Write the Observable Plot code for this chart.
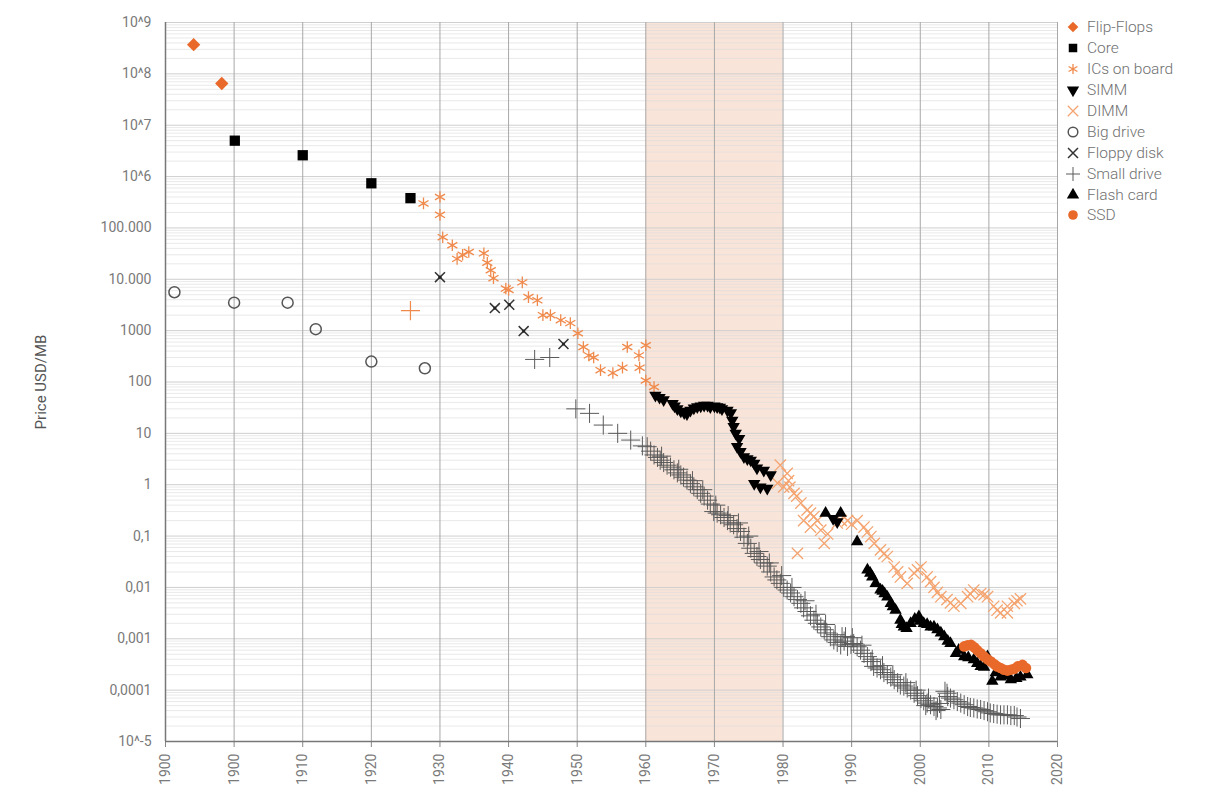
<!DOCTYPE html>
<html><head><meta charset="utf-8">
<script src="https://cdn.jsdelivr.net/npm/d3@7"></script>
<script src="https://cdn.jsdelivr.net/npm/@observablehq/plot@0.6"></script>
<style>
body{margin:0;background:#fff;font-family:Roboto,"Open Sans",sans-serif;}
#wrap{position:relative;width:1227px;height:801px;overflow:hidden;}
#legend{position:absolute;left:1066px;top:17px;font-size:15.5px;color:#707070;font-family:Roboto,sans-serif;font-weight:300;}
.row{display:flex;align-items:center;height:20.9px;white-space:nowrap;}
.row svg{margin-right:7px;flex:none;}
</style></head><body><div id="wrap"><div id="chart"></div><div id="legend"></div></div>
<script>
// ---- Data (year, price USD/MB) ----
const flipFlops = [[1894.1,3.7e8],[1898.2,6.5e7]];
const core = [[1900.1,5.0e6],[1910,2.6e6],[1920,7.4e5],[1925.7,3.8e5]];
const bigDrive = [[1891.3,5600],[1900,3500],[1907.8,3500],[1911.9,1070],[1920,250],[1927.8,185]];
const floppyDisk = [[1930,11000],[1938,2750],[1940.1,3200],[1942.2,980],[1948,550]];
const orangePlus = [[1925.7,2450]];
const icsOnBoard = [[1927.6,3.0e5],[1930,4.0e5],[1930,1.8e5],[1930.4,6.6e4],[1931.8,4.6e4],[1932.5,2.5e4],[1933.3,3.0e4],
  [1934.2,3.4e4],[1936.4,3.2e4],[1936.9,2.1e4],[1937.4,1.5e4],[1937.8,1.05e4],[1939.6,6600],[1940,6200],[1942,8700],
  [1942.9,4500],[1944.2,3900],[1945,2000],[1946.1,2000],[1947.6,1600],[1949,1400],[1950.1,890],[1950.9,480],[1951.7,330],
  [1952.4,300],[1953.4,170],[1955.2,150],[1956.6,190],[1957.3,480],[1959,330],[1960,520],[1959.1,190],[1960,107],[1961.2,80]];
const simm = [[1961.4,55],[1962.0,50],[1962.6,45],[1963.9,38],[1964.2,34],[1964.6,30],[1965.1,27],[1965.6,25],[1966.0,24],
  [1966.5,28],[1967.0,31],[1967.5,33],[1968.0,34],[1968.5,35],[1969.0,35],[1969.4,33],[1970.0,34],[1970.4,33],[1970.8,32],
  [1971.1,30],[1971.9,28],[1972.4,25],[1972.6,18],[1972.8,13.5],[1973.1,10],[1973.6,7.9],[1973.3,5.5],[1973.8,4.4],
  [1974.3,3.5],[1974.8,3.2],[1975.3,3.0],[1975.8,2.6],[1976.2,2.1],[1977.2,1.9],[1978.2,1.55],[1975.8,1.05],[1976.7,0.9],
  [1977.7,0.85],[1987.3,0.22],[1987.9,0.19]];
const dimm = [[1979.6,2.4],[1980.6,1.66],[1979.2,1.07],[1980.8,1.2],[1980.1,0.91],[1981.0,0.9],[1981.6,0.68],[1982.0,0.6],
  [1982.6,0.44],[1983.5,0.32],[1984.0,0.28],[1984.5,0.24],[1983.0,0.20],[1985.0,0.2],[1984.0,0.15],[1985.5,0.13],[1986.5,0.11],
  [1986.0,0.072],[1982.1,0.046],[1987.9,0.18],[1988.5,0.2],[1989.4,0.20],[1990.0,0.17],[1990.8,0.20],[1991.8,0.15],[1992.3,0.12],
  [1992.8,0.098],[1993.3,0.072],[1994.2,0.054],[1994.7,0.045],[1995.2,0.040],[1996.2,0.025],[1996.7,0.02],[1997.1,0.016],
  [1998.1,0.012],[1999.1,0.019],[1999.6,0.022],[2000.1,0.025],[2001.0,0.016],[2001.5,0.013],[2002.0,0.010],[2002.5,0.008],
  [2003.0,0.0066],[2003.9,0.0058],[2004.4,0.005],[2004.9,0.0043],[2005.9,0.0049],[2006.9,0.0066],[2007.3,0.0075],[2007.8,0.0089],
  [2008.8,0.0076],[2009.3,0.0072],[2009.8,0.0066],[2010.7,0.0043],[2011.2,0.0036],[2011.7,0.0032],[2012.7,0.0043],[2012.7,0.0032],
  [2013.7,0.0049],[2014.1,0.0055],[2014.6,0.006]];
const smallDrive = [[1943.8,275],[1946,300],[1949.8,30],[1951.8,24.5],[1953.8,14.5],[1955.9,10],[1957.8,7.4],[1959.5,5.7],
  [1960.2,5.5],[1960.7,4.5],[1961.2,3.8],[1961.7,3.4],[1962.1,3.0],[1962.6,2.7],[1963.1,2.4],[1963.6,2.2],[1964.1,1.95],[1964.6,1.7],
  [1965.1,1.55],[1965.5,1.4],[1966.0,1.23],[1966.5,1.05],[1967.0,0.91],[1967.5,0.8],[1968.0,0.68],[1968.5,0.6],[1969.0,0.50],
  [1969.4,0.42],[1969.9,0.30],[1970.4,0.28],[1970.9,0.26],[1971.4,0.23],[1971.9,0.20],[1972.3,0.18],[1972.8,0.166],[1973.3,0.14],
  [1973.8,0.123],[1974.3,0.095],[1974.8,0.072],[1975.3,0.058],[1975.8,0.046],[1976.2,0.04],[1976.7,0.035],[1977.2,0.03],
  [1977.7,0.026],[1978.2,0.02],[1978.7,0.016],[1979.1,0.014],[1979.6,0.012],[1980.1,0.01],[1980.6,0.0089],[1981.1,0.0078],
  [1981.6,0.0066],[1982.1,0.0058],[1982.6,0.0049],[1983.0,0.004],[1983.5,0.0034],[1984.0,0.0028],[1984.5,0.0023],[1985.0,0.002],
  [1985.5,0.0017],[1986.0,0.0015],[1986.4,0.0013],[1986.9,0.0011],[1987.4,0.00095],[1987.9,0.00085],[1988.4,0.00076],
  [1988.9,0.0009],[1989.4,0.00071],[1989.9,0.00078],[1990.3,0.00081],[1990.8,0.0007],[1991.3,0.0006],[1991.8,0.00052],
  [1992.3,0.00045],[1992.8,0.00036],[1993.2,0.00029],[1993.7,0.00027],[1994.2,0.00025],[1994.7,0.00022],[1995.2,0.0002],
  [1995.7,0.00018],[1996.2,0.00016],[1996.7,0.00014],[1997.1,0.000126],[1997.6,0.00012],[1998.1,0.00011],[1998.6,0.0001],
  [1999.1,0.000087],[1999.6,0.000078],[2000.1,0.000069],[2000.5,0.000062],[2001.0,0.000056],[2001.5,0.000052],[2002.0,0.000048],
  [2002.5,0.000045],[2003.0,0.000042],[2003.9,0.000087],[2004.4,0.00007],[2004.9,0.000065],[2005.4,0.00006],[2005.9,0.000056],
  [2006.4,0.000052],[2006.9,0.000048],[2007.3,0.000046],[2007.8,0.000045],[2008.3,0.000043],[2008.8,0.000042],[2009.3,0.00004],
  [2009.8,0.000038],[2010.2,0.000036],[2010.7,0.000035],[2011.2,0.000034],[2011.7,0.000033],[2012.2,0.000033],[2012.7,0.000033],
  [2013.2,0.000032],[2013.7,0.000032],[2014.1,0.00003],[2014.6,0.000028],
  [1962.3,3.6],[1964.8,2.0],[1966.8,1.2],[1968.3,0.8],[1970.2,0.4],[1972.0,0.25],[1973.5,0.18],[1975.0,0.1],[1976.5,0.05],
  [1978.0,0.03],[1979.8,0.017],[1981.3,0.01],[1983.2,0.0055],[1984.8,0.003],[1986.2,0.0019],[1987.6,0.0012],[1988.6,0.0011],
  [1989.1,0.0011],[1990.1,0.00105],[1991.5,0.00075],[1993.0,0.0004],[1994.5,0.0003],[1996.0,0.0002],[1997.9,0.00014],
  [1999.4,0.0001],[2001.2,0.00007],[2002.8,0.000055],[2003.6,0.000095],[2004.0,0.000075],[2002.3,0.00004],[2000.8,0.00005]];
const flashCard = [[1986.2,0.28],[1988.4,0.28],[1990.8,0.078],[1992.3,0.022],[1992.7,0.019],[1993.0,0.016],[1993.5,0.012],
  [1994.2,0.0089],[1994.5,0.0085],[1994.8,0.0076],[1995.2,0.0065],[1995.7,0.0049],[1996.0,0.0042],[1996.4,0.0036],[1997.1,0.0023],
  [1997.3,0.0019],[1997.6,0.0017],[1998.0,0.0016],[1998.6,0.0020],[1999.2,0.0024],[1999.8,0.0027],[2000.0,0.0022],[2000.5,0.0020],
  [2001.0,0.0019],[2001.5,0.0017],[2002.0,0.0017],[2002.5,0.0015],[2003.0,0.0013],[2003.5,0.0011],[2004.0,0.0009],[2004.4,0.00081],
  [2005.2,0.00052],[2005.6,0.0006],[2006.4,0.00045],[2007.0,0.00043],[2007.8,0.00039],[2008.3,0.00033],[2008.8,0.00029],
  [2009.3,0.00028],[2009.8,0.00045],[2010.5,0.00015],[2011.0,0.00022],[2011.7,0.00018],[2012.5,0.00019],[2013.2,0.00016],
  [2014.0,0.00017],[2014.6,0.00018],[2015.6,0.0002]];
const ssd = [[2006.4,0.00071],[2006.9,0.00075],[2007.4,0.00076],[2007.9,0.00068],[2008.3,0.0006],[2008.8,0.00052],[2009.3,0.00045],
  [2009.8,0.0004],[2010.3,0.00036],[2010.8,0.00032],[2011.2,0.00029],[2011.7,0.00027],[2012.2,0.00025],[2012.7,0.00024],
  [2013.2,0.00025],[2013.7,0.00026],[2014.2,0.00029],[2014.9,0.00031],[2015.4,0.00027]];

const shadedPeriod = [[1960,1980]];
const xTicks = [1890,1900,1910,1920,1930,1940,1950,1960,1970,1980,1990,2000,2010,2020];
const xTickLabels = ["1900","1900","1910","1920","1930","1940","1950","1960","1970","1980","1990","2000","2010","2020"];
const yTicks = [1e9,1e8,1e7,1e6,1e5,1e4,1e3,1e2,1e1,1,0.1,0.01,0.001,0.0001,0.00001];
const yTickLabels = ["10^9","10^8","10^7","10^6","100.000","10.000","1000","100","10","1","0,1","0,01","0,001","0,0001","10^-5"];

const seriesNames = ["Flip-Flops","Core","ICs on board","SIMM","DIMM","Big drive","Floppy disk","Small drive","Flash card","SSD"];

// ---- styles ----
const ORANGE = "#e8692a", ICS = "#f08a4c", DIMMC = "#f4a470", GRAY = "#555";
const styles = {
  "Flip-Flops": {symbol:"diamond2", fill:ORANGE, stroke:"none", r:6},
  "Core": {symbol:"square", fill:"#000", stroke:"none", r:5.8},
  "ICs on board": {symbol:"asterisk", fill:"none", stroke:ICS, r:5.5, strokeWidth:1.3},
  "SIMM": {symbol:"triangle", fill:"#000", stroke:"none", r:4.6, rotate:180},
  "DIMM": {symbol:"times", fill:"none", stroke:DIMMC, r:5.2, strokeWidth:1.3},
  "Big drive": {symbol:"circle", fill:"none", stroke:GRAY, r:5.5, strokeWidth:1.5},
  "Floppy disk": {symbol:"times", fill:"none", stroke:"#333", r:4.6, strokeWidth:1.5},
  "Small drive": {symbol:"plus", fill:"none", stroke:"#5a5a5a", r:6.2, strokeWidth:1},
  "Flash card": {symbol:"triangle", fill:"#000", stroke:"none", r:4.6},
  "SSD": {symbol:"circle", fill:ORANGE, stroke:"none", r:5.3}
};
const seriesData = {
  "Flip-Flops": flipFlops, "Core": core, "ICs on board": icsOnBoard, "SIMM": simm, "DIMM": dimm,
  "Big drive": bigDrive, "Floppy disk": floppyDisk, "Small drive": smallDrive, "Flash card": flashCard, "SSD": ssd
};
const drawOrder = ["Big drive","Small drive","ICs on board","DIMM","Floppy disk","SIMM","Flash card","SSD","Core","Flip-Flops"];

const xLabel = new Map(xTicks.map((t,i)=>[t,xTickLabels[i]]));
const yLabel = new Map(yTicks.map((t,i)=>[t,yTickLabels[i]]));
const minorY = [];
for (let e=-5; e<9; e++) for (let m=2; m<10; m++) minorY.push(m*Math.pow(10,e));

const dotMarks = drawOrder.map(name => {
  const s = styles[name];
  const o = {x: d=>d[0], y: d=>d[1], symbol: s.symbol, r: s.r, fill: s.fill, stroke: s.stroke};
  if (s.strokeWidth) o.strokeWidth = s.strokeWidth;
  if (s.rotate) o.rotate = s.rotate;
  return Plot.dot(seriesData[name], o);
});

const chart = Plot.plot({
  width: 1227, height: 801,
  marginLeft: 165, marginRight: 170, marginTop: 22, marginBottom: 60,
  style: {fontFamily: "Roboto, sans-serif", fontSize: "14px", color: "#777", background: "#fff"},
  x: {domain: [1890, 2020]},
  y: {type: "log", domain: [1e-5, 1e9]},
  marks: [
    Plot.rect(shadedPeriod, {x1: d=>d[0], x2: d=>d[1], fill: "#f9e4d9"}),
    Plot.gridY(minorY, {stroke: "#dcdcdc", strokeOpacity: 0.8, strokeWidth: 0.8}),
    Plot.gridY(yTicks, {stroke: "#cfcfcf", strokeOpacity: 1, strokeWidth: 1}),
    Plot.gridX(xTicks, {stroke: "#a8a8a8", strokeOpacity: 1, strokeWidth: 1}),
    Plot.axisY(yTicks, {tickFormat: d=>yLabel.get(d), tickSize: 0, tickPadding: 14, fontSize: 14, color: "#7a7a7a",
      label: "Price USD/MB", labelAnchor: "center", labelArrow: "none", labelOffset: 130}),
    Plot.axisX(xTicks, {tickFormat: d=>xLabel.get(d), tickRotate: -90, tickSize: 6, tickPadding: 6, fontSize: 14,
      color: "#7a7a7a", stroke: "#888", label: null}),
    Plot.ruleX([1890], {stroke: "#777", strokeWidth: 1.5}),
    Plot.ruleY([1e-5], {stroke: "#777", strokeWidth: 1.5}),
    ...dotMarks,
    Plot.dot(orangePlus, {x: d=>d[0], y: d=>d[1], symbol: "plus", r: 6.2, stroke: ICS, strokeWidth: 1.2}),
    Plot.dot(floppyDisk, {x: d=>d[0], y: d=>d[1], r: 1.6, fill: "#222"})
  ]
});
document.getElementById("chart").appendChild(chart);
d3.select(chart).selectAll("[aria-label='y-axis label'] text, [aria-label='y-axis label']").style("fill","#555").style("font-size","15px");

// ---- legend ----
const legend = d3.select("#legend");
const symMap = {diamond2: d3.symbolDiamond2, square: d3.symbolSquare, asterisk: d3.symbolAsterisk, triangle: d3.symbolTriangle,
  times: d3.symbolTimes, circle: d3.symbolCircle, plus: d3.symbolPlus};
seriesNames.forEach(name => {
  const s = styles[name];
  const row = legend.append("div").attr("class","row");
  const svg = row.append("svg").attr("width",14).attr("height",14);
  const rr = Math.min(s.r, 4.8);
  svg.append("path").attr("transform", `translate(7,7) rotate(${s.rotate||0})`)
    .attr("d", d3.symbol(symMap[s.symbol], Math.PI*rr*rr)())
    .attr("fill", s.fill).attr("stroke", s.stroke).attr("stroke-width", s.strokeWidth||1);
  row.append("span").text(name);
});
</script></body></html>
